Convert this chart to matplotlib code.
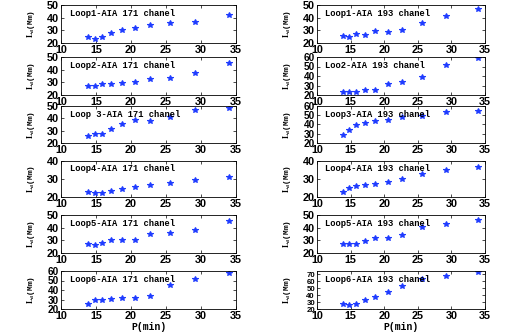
import matplotlib
matplotlib.use("Agg")
import matplotlib.pyplot as plt

plt.rcParams["mathtext.fontset"] = "stix"

period = [13.8, 14.8, 15.8, 17.1, 18.7, 20.5, 22.7, 25.6, 29.2, 34.0]

aia171 = [
    [25, 23, 24.5, 27.5, 30, 31.5, 34.5, 35.5, 36.5, 42],
    [27.5, 27.5, 29, 29, 29.5, 30.5, 32.5, 33.5, 37, 45],
    [26, 27, 27.5, 31, 35.5, 38.5, 37.5, 41, 46.5, 48],
    [23, 22, 22.5, 23.5, 24.5, 25.5, 26.5, 28, 29.5, 31],
    [27, 26.5, 28, 30, 30, 30.5, 35, 35.5, 38.5, 45],
    [25.5, 29, 29.5, 30.5, 31.5, 32, 33.5, 45, 52, 58],
]
aia193 = [
    [25.5, 25, 27, 26.5, 29.5, 29, 30.5, 36, 41, 47],
    [23, 23, 23, 25, 25, 31.5, 34, 39, 52, 59],
    [29, 34.5, 39, 42, 44, 45, 48, 49.5, 53.5, 55],
    [23, 25, 26, 26.5, 27.5, 28.5, 30, 33, 35, 36.5],
    [27.5, 27, 27, 29.5, 31.5, 31.5, 34, 40.5, 43, 46],
    [27, 26.5, 27, 33, 37, 45, 53, 63, 68, 73],
]
titles171 = ["Loop1-AIA 171 chanel", "Loop2-AIA 171 chanel", "Loop 3-AIA 171 chanel",
             "Loop4-AIA 171 chanel", "Loop5-AIA 171 chanel", "Loop6-AIA 171 chanel"]
titles193 = ["Loop1-AIA 193 chanel", "Loo2-AIA 193 chanel", "Loop3-AIA 193 chanel",
             "Loop4-AIA 193 chanel", "Loop5-AIA 193 chanel", "Loop6-AIA 193 chanel"]
ylims171 = [(20, 50), (20, 50), (20, 50), (20, 40), (20, 50), (20, 60)]
ylims193 = [(20, 50), (20, 60), (20, 60), (20, 40), (20, 50), (20, 75)]
yticks171 = [[20, 30, 40, 50], [20, 30, 40, 50], [20, 30, 40, 50], [20, 30, 40],
             [20, 30, 40, 50], [20, 30, 40, 50, 60]]
yticks193 = [[20, 30, 40, 50], [20, 30, 40, 50, 60], [20, 30, 40, 50, 60], [20, 30, 40],
             [20, 30, 40, 50], [20, 30, 40, 50, 60, 70]]
xticks = [10, 15, 20, 25, 30, 35]

W, H = 522, 333
fig = plt.figure(figsize=(W / 100, H / 100), dpi=100)

rows = [(5, 43), (57, 95), (106, 143), (161, 197), (215, 253), (271, 309)]
cols = [(61, 236), (317, 485)]

monofont = "Liberation Mono"
ysizes = {3: 7.8, 4: 7.8, 5: 7.2, 6: 5.6}

for c, (x0, x1) in enumerate(cols):
    data = aia171 if c == 0 else aia193
    titles = titles171 if c == 0 else titles193
    ylims = ylims171 if c == 0 else ylims193
    ytks = yticks171 if c == 0 else yticks193
    for r, (t, b) in enumerate(rows):
        ax = fig.add_axes([x0 / W, 1 - b / H, (x1 - x0) / W, (b - t) / H])
        ax.plot(period, data[r], linestyle="none", marker="*", markersize=3.8,
                color="#1f3cff", markeredgewidth=0.8)
        ax.set_xlim(10, 35)
        ax.set_ylim(*ylims[r])
        ax.set_xticks(xticks)
        ax.set_yticks(ytks[r])
        ax.tick_params(direction="in", length=2, width=0.5, top=True, right=True, pad=1.5)
        for lab in ax.get_xticklabels():
            lab.set_fontfamily("Liberation Sans")
            lab.set_fontweight("bold")
            lab.set_fontsize(7.8)
        ys = ysizes[len(ytks[r])]
        for lab in ax.get_yticklabels():
            lab.set_fontfamily("Liberation Sans")
            lab.set_fontweight("bold")
            lab.set_fontsize(ys)
        for s in ax.spines.values():
            s.set_linewidth(0.6)
        ax.text(0.05, 0.78, titles[r], transform=ax.transAxes, family=monofont,
                weight="bold", fontsize=6.3, va="center", ha="left")
        ax.set_ylabel(r"$\mathbf{L_d}$(Mm)", family=monofont, fontsize=5.6,
                      fontweight="bold")
        ax.yaxis.set_label_coords(-24 / (x1 - x0), 0.5)
        if r == 5:
            ax.set_xlabel("P(min)", family=monofont, fontsize=7, fontweight="bold",
                          labelpad=0.5)

fig.savefig("out.png", dpi=100)
